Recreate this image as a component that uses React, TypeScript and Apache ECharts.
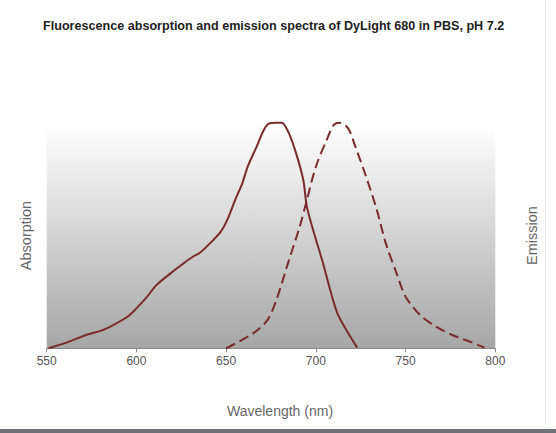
import React, { useEffect, useRef } from "react";
import * as echarts from "echarts";

const titleText = "Fluorescence absorption and emission spectra of DyLight 680 in PBS, pH 7.2";
const xTicks = [550, 600, 650, 700, 750, 800];

const absWavelength = [551, 561, 573, 580, 587, 595, 600, 606, 611, 619, 625, 632, 635, 641, 647, 651, 655, 659, 662, 667, 671, 674, 678, 681, 685, 689, 693, 695, 699, 704, 708, 712, 717, 723];
const absValue = [0, 0.025, 0.062, 0.077, 0.103, 0.14, 0.177, 0.229, 0.279, 0.332, 0.369, 0.409, 0.421, 0.465, 0.517, 0.576, 0.657, 0.731, 0.805, 0.894, 0.968, 0.997, 1.0, 1.0, 0.953, 0.864, 0.746, 0.628, 0.51, 0.377, 0.258, 0.155, 0.081, 0.003];

const emWavelength = [650, 665, 673, 678, 685, 691, 695, 700, 706, 710, 713, 718, 722, 728, 734, 739, 745, 750, 758, 767, 776, 786, 794];
const emValue = [0, 0.066, 0.125, 0.214, 0.391, 0.539, 0.657, 0.805, 0.923, 0.99, 1.0, 0.975, 0.894, 0.761, 0.613, 0.465, 0.332, 0.229, 0.148, 0.096, 0.059, 0.029, 0.003];

const lineColor = "#7a2b2b";

export default function App() {
  const ref = useRef<HTMLDivElement>(null);
  useEffect(() => {
    document.body.style.margin = "0";
    if (!ref.current) return;
    const chart = echarts.init(ref.current, null, { renderer: "svg" });
    const font = "Liberation Sans, Arial, sans-serif";
    chart.setOption({
      animation: false,
      backgroundColor: "#ffffff",
      title: {
        text: titleText,
        left: 38,
        top: 14.5,
        textStyle: { fontFamily: font, fontSize: 12.6, fontWeight: "bold", color: "#222" },
      },
      grid: {
        left: 46.7,
        right: 60.7,
        top: 122.7,
        bottom: 84.7,
        show: true,
        borderWidth: 0,
        backgroundColor: new echarts.graphic.LinearGradient(0, 0, 0, 1, [
          { offset: 0, color: "#ffffff" },
          { offset: 0.04, color: "#fcfcfc" },
          { offset: 1, color: "#a6a6a6" },
        ]),
      },
      xAxis: {
        type: "value",
        min: xTicks[0],
        max: xTicks[xTicks.length - 1],
        interval: 50,
        name: "Wavelength (nm)",
        nameLocation: "middle",
        nameGap: 56,
        nameTextStyle: { fontFamily: font, fontSize: 14, color: "#666", padding: [0, 0, 0, 18] },
        axisLine: { show: true, lineStyle: { color: "#8a8a8a", width: 1 } },
        axisTick: { show: true, length: 4, lineStyle: { color: "#8a8a8a" } },
        axisLabel: { margin: 7, fontFamily: font, fontSize: 12, color: "#555" },
        splitLine: { show: false },
      },
      yAxis: [
        {
          type: "value",
          min: 0,
          max: 1,
          position: "left",
          name: "Absorption",
          nameLocation: "middle",
          nameGap: 13,
          nameTextStyle: { fontFamily: font, fontSize: 14.5, color: "#666" },
          axisLine: { show: false },
          axisTick: { show: false },
          axisLabel: { show: false },
          splitLine: { show: false },
        },
        {
          type: "value",
          min: 0,
          max: 1,
          position: "right",
          name: "Emission",
          nameLocation: "middle",
          nameGap: 29,
          nameTextStyle: { fontFamily: font, fontSize: 14.5, color: "#666" },
          axisLine: { show: false },
          axisTick: { show: false },
          axisLabel: { show: false },
          splitLine: { show: false },
        },
      ],
      series: [
        {
          name: "Absorption",
          type: "line",
          yAxisIndex: 0,
          data: absWavelength.map((w, i) => [w, absValue[i]]),
          smooth: 0.3,
          showSymbol: false,
          clip: false,
          lineStyle: { color: lineColor, width: 2 },
        },
        {
          name: "Emission",
          type: "line",
          yAxisIndex: 1,
          data: emWavelength.map((w, i) => [w, emValue[i]]),
          smooth: 0.3,
          showSymbol: false,
          clip: false,
          lineStyle: { color: lineColor, width: 2, type: [10, 5] },
        },
      ],
      graphic: [
        { type: "rect", shape: { x: 545, y: 0, width: 1, height: 430 }, style: { fill: "#ececec" }, silent: true },
        { type: "rect", shape: { x: 0, y: 429, width: 556, height: 4 }, style: { fill: "#6f7377" }, silent: true },
      ],
    });
    return () => chart.dispose();
  }, []);
  return <div ref={ref} style={{ width: 556, height: 433 }} />;
}
